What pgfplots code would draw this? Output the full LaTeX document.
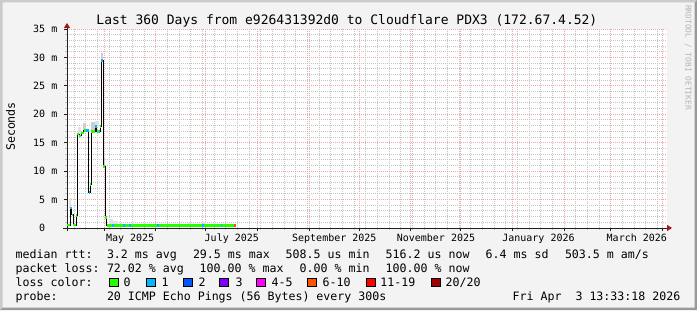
\documentclass[border=0pt]{standalone}
\usepackage{fontspec}
\setmainfont{DejaVu Sans Mono}
\usepackage{pgfplots}
\usepackage{pgfplotstable}
\pgfplotsset{compat=1.18}
\usetikzlibrary{arrows.meta}

\definecolor{bgc}{HTML}{F3F3F3}
\definecolor{shadea}{HTML}{CBCBCB}
\definecolor{shadeb}{HTML}{999999}
\definecolor{mgrid}{HTML}{EEA8A8}
\definecolor{mingrid}{HTML}{C4C4C4}
\definecolor{axisc}{HTML}{202020}
\definecolor{arrowc}{HTML}{A01818}
\definecolor{lc0}{HTML}{26FF00}
\definecolor{lc1}{HTML}{00B8FF}
\definecolor{lc2}{HTML}{0059FF}
\definecolor{lc3}{HTML}{7E00FF}
\definecolor{lc4}{HTML}{FF00FF}
\definecolor{lc6}{HTML}{FF5500}
\definecolor{lc11}{HTML}{FF0000}
\definecolor{lc20}{HTML}{A10000}
\definecolor{smoke}{HTML}{CDCDCD}
\definecolor{smokel}{HTML}{E2E2E2}
\definecolor{wm}{HTML}{B4B4B4}

\newcommand{\lf}{\fontsize{11.6bp}{13bp}\selectfont}
\newcommand{\af}{\fontsize{10bp}{12bp}\selectfont}
\newcommand{\tf}{\fontsize{13bp}{15bp}\selectfont}

% median rtt (ms), days since 2025-05-01, step values
\pgfplotstableread{
x y
-22.38 0.5
-20.58 3.5
-19.68 2.3
-18.78 0.5
-16.98 2.2
-16.38 16.5
-15.18 16.2
-13.80 16.7
-12.36 17.1
-9.36 6.2
-8.40 7.6
-7.80 17.0
-5.58 17.9
-4.68 17.0
-2.58 17.9
-1.80 29.5
-0.60 10.8
0.60 1.8
1.44 0.45
78.72 0.45
}\median

% loss 0 segments
\pgfplotstableread{
x y
-22.38 0.5
-20.58 0.5
nan nan
-19.68 2.3
-18.78 2.3
nan nan
-18.78 0.5
-16.98 0.5
nan nan
-16.98 2.2
-16.38 2.2
nan nan
-16.38 16.5
-15.18 16.5
nan nan
-15.18 16.2
-13.80 16.2
nan nan
-13.80 16.7
-12.36 16.7
nan nan
-12.36 17.1
-10.98 17.1
nan nan
-8.40 7.6
-7.80 7.6
nan nan
-7.80 17.0
-5.58 17.0
nan nan
-4.68 17.0
-3.48 17.0
nan nan
-2.58 17.9
-1.80 17.9
nan nan
-0.60 10.8
0.60 10.8
nan nan
0.60 1.8
1.44 1.8
nan nan
1.44 0.45
77.52 0.45
}\lossA

% loss 1 segments
\pgfplotstableread{
x y
-20.58 3.5
-19.68 3.5
nan nan
-10.98 17.1
-9.36 17.1
nan nan
-9.36 6.2
-8.40 6.2
nan nan
-5.58 17.9
-4.68 17.9
nan nan
-3.48 17.0
-2.58 17.0
nan nan
-1.80 29.5
-0.60 29.5
nan nan
4.44 0.45
5.82 0.45
nan nan
11.40 0.45
12.60 0.45
nan nan
14.82 0.45
16.02 0.45
nan nan
31.62 0.45
32.82 0.45
nan nan
58.62 0.45
59.82 0.45
nan nan
69.84 0.45
70.80 0.45
}\lossB

% loss 6-10 segment
\pgfplotstableread{
x y
77.52 0.45
78.72 0.45
}\lossC

\begin{document}
\begin{tikzpicture}[x=1bp,y=1bp]
\useasboundingbox (0,0) rectangle (697,310);
\fill[bgc] (0,0) rectangle (697,310);
\fill[shadea] (0,310) -- (697,310) -- (694.5,307.5) -- (2.5,307.5) -- (2.5,2.5) -- (0,0) -- cycle;
\fill[shadeb] (697,310) -- (697,0) -- (0,0) -- (2.5,2.5) -- (694.5,2.5) -- (694.5,307.5) -- cycle;

\begin{axis}[
  at={(67bp,82bp)}, anchor=south west,
  scale only axis, width=600bp, height=199bp,
  xmin=-22.38, xmax=337.62, ymin=0, ymax=35,
  axis x line=bottom, axis y line=left,
  axis line style={axisc, line width=1bp},
  x axis line style={-{Triangle[length=5bp,width=6bp,color=arrowc,fill=arrowc]}, shorten >=-5bp, shorten <=-4bp},
  y axis line style={-{Triangle[length=5bp,width=6bp,color=arrowc,fill=arrowc]}, shorten >=-6bp, shorten <=-3bp},
  axis background/.style={fill=white},
  xtick={0,31,61,92,123,153,184,214,245,276,304,335},
  xticklabels={,,,,,,,,,,,},
  minor xtick={-18,-11,...,332},
  extra x ticks={15.5,76.5,138,199,260.5,319.5},
  extra x tick labels={May 2025,July 2025,September 2025,November 2025,January 2026,March 2026},
  extra x tick style={grid=none, major tick length=0pt, xticklabel style={anchor=base, inner sep=0pt, yshift=-13.6bp}},
  ytick={0,5,...,35},
  yticklabels={0\hphantom{mm},5 m,10 m,15 m,20 m,25 m,30 m,35 m},
  yticklabel style={anchor=east, inner sep=0pt, xshift=-6.5bp},
  minor y tick num=4,
  grid=both,
  major grid style={mgrid, line width=1bp, dash pattern=on 1bp off 1bp},
  minor grid style={mingrid, line width=1bp, dash pattern=on 1bp off 1bp},
  tick align=outside,
  major tick length=3bp, minor tick length=2bp,
  major tick style={axisc, line width=1bp},
  minor tick style={mingrid, line width=1bp},
  tick label style={font=\af, text=black},
  clip=true,
]
% smoke
\addplot[fill=smokel, draw=none] coordinates {(-21.36,3.5)(-19.8,3.5)(-19.8,5.3)(-21.36,5.3)};
\addplot[fill=smokel, draw=none] coordinates {(-15.78,16.6)(-14.16,16.6)(-14.16,17.8)(-15.78,17.8)};
\addplot[fill=smoke, draw=none] coordinates {(-12.6,17.2)(-10.98,17.2)(-10.98,18.5)(-12.6,18.5)};
\addplot[fill=smoke, draw=none] coordinates {(-7.8,17.2)(-5.58,17.2)(-5.58,18.7)(-7.8,18.7)};
\addplot[fill=smokel, draw=none] coordinates {(-5.4,18.0)(-3.36,18.0)(-3.36,18.9)(-5.4,18.9)};
\addplot[fill=smoke, draw=none] coordinates {(-1.8,29.6)(-0.6,29.6)(-0.6,30.8)(-1.8,30.8)};
\addplot[fill=smoke, draw=none] coordinates {(-0.6,10.9)(0.6,10.9)(0.6,12.5)(-0.6,12.5)};
\addplot[fill=smokel, draw=none] coordinates {(2.64,0.6)(5.22,0.6)(5.22,1.5)(2.64,1.5)};
\addplot[fill=smokel, draw=none] coordinates {(5.22,0.6)(8.2,0.6)(8.2,1.2)(5.22,1.2)};
\addplot[fill=smokel, draw=none] coordinates {(50.2,0.6)(52.0,0.6)(52.0,1.1)(50.2,1.1)};
\addplot[fill=smokel, draw=none] coordinates {(59.2,0.6)(61.0,0.6)(61.0,1.1)(59.2,1.1)};
% median line
\addplot[const plot mark left, black, line width=1bp] table {\median};
% loss colour bands
\addplot[lc0, line width=2.6bp, unbounded coords=jump] table {\lossA};
\addplot[lc1, line width=2.6bp, unbounded coords=jump] table {\lossB};
\addplot[lc6, line width=2.6bp] table {\lossC};
\end{axis}

% title and labels
\node[font=\tf, anchor=base, inner sep=0pt] at (346.9,286) {Last 360 Days from e926431392d0 to Cloudflare PDX3 (172.67.4.52)};
\node[font=\lf, rotate=90, inner sep=0pt] at (10.5,183.5) {Seconds};
\node[font=\fontsize{7.9bp}{9bp}\selectfont, text=wm, rotate=-90, anchor=west, inner sep=0pt] at (688.3,305) {RRDTOOL / TOBI OETIKER};

% legend rows
\begin{scope}[every node/.style={font=\lf, anchor=base west, inner sep=0pt}]
\node at (15.5,51.7) {median rtt:};
\node at (106.8,51.7) {3.2 ms avg};
\node at (192.8,51.7) {29.5 ms max};
\node at (285.5,51.7) {508.5 us min};
\node at (385.5,51.7) {516.2 us now};
\node at (485.5,51.7) {6.4 ms sd};
\node at (564.8,51.7) {503.5 m am/s};

\node at (15.5,37.7) {packet loss:};
\node at (106.8,37.7) {72.02 \% avg};
\node at (199.5,37.7) {100.00 \% max};
\node at (299.5,37.7) {0.00 \% min};
\node at (385.5,37.7) {100.00 \% now};

\node at (15.5,23.7) {loss color:};
\node at (123.5,23.7) {0};
\node at (161.5,23.7) {1};
\node at (198.5,23.7) {2};
\node at (235.5,23.7) {3};
\node at (271.5,23.7) {4-5};
\node at (322.5,23.7) {6-10};
\node at (380.2,23.7) {11-19};
\node at (445.5,23.7) {20/20};

\node at (15.5,10) {probe:};
\node at (106.8,10) {20 ICMP Echo Pings (56 Bytes) every 300s};
\node[anchor=base east] at (680.5,10) {Fri Apr\ \ 3 13:33:18 2026};
\end{scope}

\foreach \bx/\bc in {108.7/lc0,145.7/lc1,182.7/lc2,219.3/lc3,256/lc4,306.7/lc6,365.7/lc11,430.7/lc20}{
  \filldraw[fill=\bc, draw=black, line width=1bp] (\bx+0.5,23.3) rectangle (\bx+9.5,31.3);
}
\end{tikzpicture}
\end{document}
